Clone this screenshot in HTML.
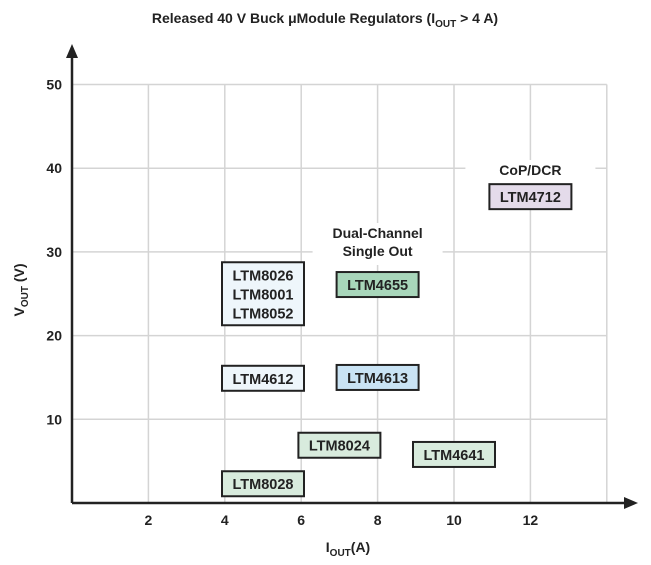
<!DOCTYPE html>
<html><head><meta charset="utf-8"><style>
body{margin:0;background:#fff;}
svg{display:block;font-family:"Liberation Sans",sans-serif;font-weight:bold;}
</style></head><body>
<svg id="chart" width="651" height="565" viewBox="0 0 651 565">
<text x="325" y="23" text-anchor="middle" font-size="14" fill="#222">Released 40 V Buck μModule Regulators  (I<tspan font-size="10" dy="4">OUT</tspan><tspan dy="-4"> &gt; 4 A)</tspan></text>
<g id="grid"></g>
<g id="axes"></g>
<g id="marks"></g>
</svg>
<script>
const xTicks=[2,4,6,8,10,12];
const yTicks=[10,20,30,40,50];
const names=["LTM8028","LTM8024","LTM4641","LTM4612","LTM4613","LTM4655","LTM8026\nLTM8001\nLTM8052","LTM4712"];
const xVals=[5,7,10,5,8,8,5,12];
const yVals=[2.3,6.9,5.8,14.9,15,26.1,25,36.6];
const fills=["#d8ebdd","#d8ebdd","#d8ebdd","#eef6fb","#c9e3f4","#a8d6ba","#eef6fb","#e4dbea"];
const ns="http://www.w3.org/2000/svg";
const X=v=>72+v*38.2, Y=v=>503-v*8.37;
function mk(tag,attrs,parent,txt){const e=document.createElementNS(ns,tag);for(const k in attrs)e.setAttribute(k,attrs[k]);if(txt!=null)e.textContent=txt;parent.appendChild(e);return e;}
const grid=document.getElementById('grid'),axes=document.getElementById('axes'),marks=document.getElementById('marks');
xTicks.concat([14]).forEach(t=>{const l=mk('line',{x1:X(t),x2:X(t),y1:Y(50),y2:503,stroke:'#d4d4d4','stroke-width':1.5},grid);

});
yTicks.forEach(t=>{const l=mk('line',{x1:72,x2:X(14),y1:Y(t),y2:Y(t),stroke:'#d4d4d4','stroke-width':1.5},grid);

});
const xa=mk('line',{x1:72,x2:626,y1:503,y2:503,stroke:'#222','stroke-width':2.5},axes);


const xar=mk('polygon',{points:'624,497 638,503 624,509',fill:'#222'},axes);


const ya=mk('line',{x1:72,x2:72,y1:56,y2:503,stroke:'#222','stroke-width':2.5},axes);


const yar=mk('polygon',{points:'66,58 72,44 78,58',fill:'#222'},axes);


xTicks.forEach(t=>{const e=mk('text',{x:X(t),y:525,'text-anchor':'middle','font-size':14,fill:'#222'},axes,String(t));

});
yTicks.forEach(t=>{const e=mk('text',{x:62,y:Y(t)+5,'text-anchor':'end','font-size':14,fill:'#222'},axes,String(t));

});
const xt=mk('text',{x:348,y:552,'text-anchor':'middle','font-size':14,fill:'#222'},axes);
xt.innerHTML='I<tspan font-size="10" dy="4">OUT</tspan><tspan dy="-4">(A)</tspan>';


const yt=mk('text',{x:0,y:0,'text-anchor':'middle','font-size':14,fill:'#222',transform:'translate(24,290) rotate(-90)'},axes);
yt.innerHTML='V<tspan font-size="10" dy="4">OUT</tspan><tspan dy="-4"> (V)</tspan>';


function ann(x,y,lines,name){const bw=130,bh=lines.length*18+6;const g=mk('g',{},marks);


mk('rect',{x:x-bw/2,y:y-15,width:bw,height:bh,fill:'#fff'},g);
lines.forEach((s,i)=>mk('text',{x:x,y:y+i*18,'text-anchor':'middle','font-size':14,fill:'#222'},g,s));}
ann(X(12),175,["CoP/DCR"],'cop-dcr-label');
ann(X(8),238,["Dual-Channel","Single Out"],'dual-channel-label');
names.forEach((n,i)=>{const lines=n.split('\n');const w=82,h=lines.length*19+6;const cx=X(xVals[i]),cy=Y(yVals[i]);
const g=mk('g',{},marks);


mk('rect',{x:cx-w/2,y:cy-h/2,width:w,height:h,fill:fills[i],stroke:'#222','stroke-width':2},g);
lines.forEach((s,j)=>mk('text',{x:cx,y:cy-h/2+18+j*19,'text-anchor':'middle','font-size':14.5,fill:'#222'},g,s));});
</script>
</body></html>
